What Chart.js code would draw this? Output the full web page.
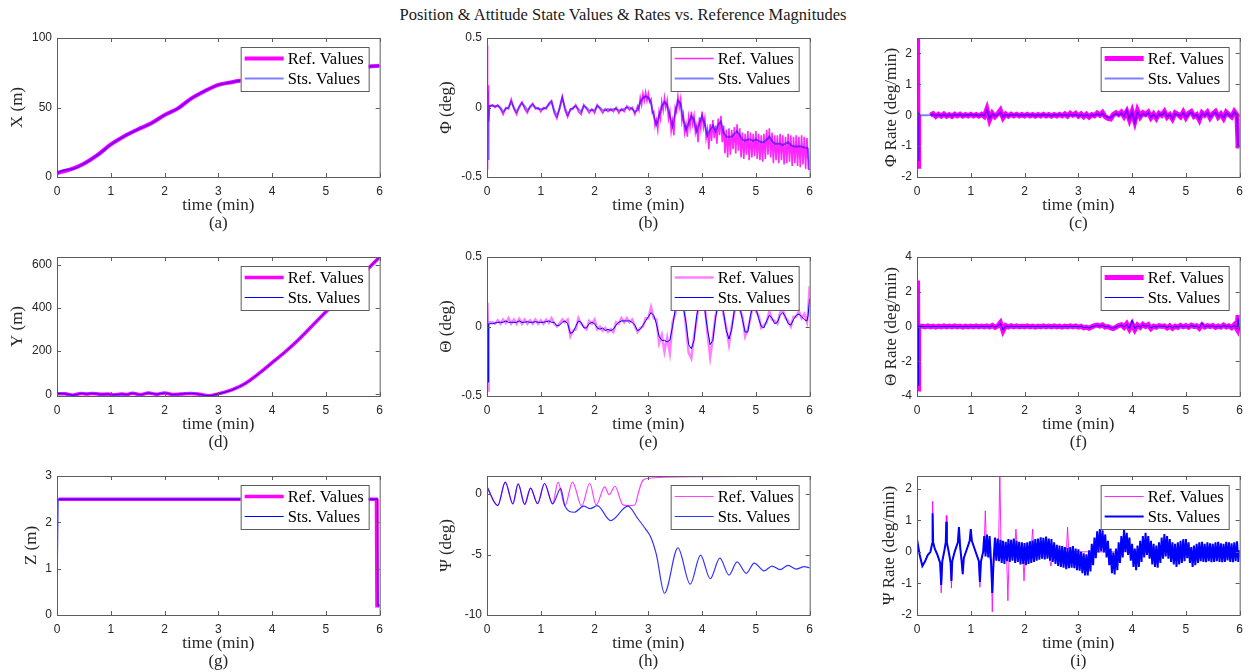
<!DOCTYPE html>
<html>
<head>
<meta charset="utf-8">
<title>Position &amp; Attitude State Values &amp; Rates vs. Reference Magnitudes</title>
<script src="https://cdn.jsdelivr.net/npm/chart.js@4.4.1/dist/chart.umd.min.js"></script>
<style>
  html, body { margin: 0; padding: 0; background: #fff; }
  #page { position: relative; width: 1250px; height: 672px; overflow: hidden; }
  #page canvas { position: absolute; }
  #title { position: absolute; left: 0; top: 5px; width: 1246px; line-height: 18px; text-align: center;
           font: 16.5px "Liberation Serif", "Times New Roman", serif; color: #1a1a1a; }
</style>
</head>
<body>
<div id="page">
  <div id="title">Position &amp; Attitude State Values &amp; Rates vs. Reference Magnitudes</div>
</div>
<script>
// ---- time bases (min) ----
const xTicks = [0, 1, 2, 3, 4, 5, 6];

// logged sample times for the attitude channels
const tFine = [
  0, 0.01, 0.02, 0.03, 0.05, 0.1, 0.15, 0.2, 0.25, 0.3, 0.35, 0.4, 0.45, 0.5, 0.55, 0.6, 0.65, 0.7, 0.75, 0.8, 0.85, 0.9, 0.95,
  1, 1.05, 1.1, 1.15, 1.2, 1.25, 1.3, 1.35, 1.4, 1.45, 1.5, 1.55, 1.6, 1.65, 1.7, 1.75, 1.8, 1.85, 1.9, 1.95,
  2, 2.05, 2.1, 2.15, 2.2, 2.25, 2.3, 2.35, 2.4, 2.45, 2.5, 2.55, 2.6, 2.65, 2.7, 2.75, 2.8, 2.85, 2.9, 2.95,
  3, 3.05, 3.1, 3.15, 3.2, 3.25, 3.3, 3.35, 3.4, 3.45, 3.5, 3.55, 3.6, 3.65, 3.7, 3.75, 3.8, 3.85, 3.9, 3.95,
  4, 4.05, 4.1, 4.15, 4.2, 4.25, 4.3, 4.35, 4.4, 4.45, 4.5, 4.55, 4.6, 4.65, 4.7, 4.75, 4.8, 4.85, 4.9, 4.95,
  5, 5.05, 5.1, 5.15, 5.2, 5.25, 5.3, 5.35, 5.4, 5.45, 5.5, 5.55, 5.6, 5.65, 5.7, 5.75, 5.8, 5.85, 5.9, 5.95,
  5.97, 6
];

// high-rate sample times (1.25 min onward) for the noisiest channels
const tDense = [
  1.25, 1.275, 1.3, 1.325, 1.35, 1.375, 1.4, 1.425, 1.45, 1.475, 1.5, 1.525, 1.55, 1.575, 1.6, 1.625, 1.65, 1.675, 1.7, 1.725,
  1.75, 1.775, 1.8, 1.825, 1.85, 1.875, 1.9, 1.925, 1.95, 1.975,
  2, 2.025, 2.05, 2.075, 2.1, 2.125, 2.15, 2.175, 2.2, 2.225, 2.25, 2.275, 2.3, 2.325, 2.35, 2.375, 2.4, 2.425, 2.45, 2.475,
  2.5, 2.525, 2.55, 2.575, 2.6, 2.625, 2.65, 2.675, 2.7, 2.725, 2.75, 2.775, 2.8, 2.825, 2.85, 2.875, 2.9, 2.925, 2.95, 2.975,
  3, 3.025, 3.05, 3.075, 3.1, 3.125, 3.15, 3.175, 3.2, 3.225, 3.25, 3.275, 3.3, 3.325, 3.35, 3.375, 3.4, 3.425, 3.45, 3.475,
  3.5, 3.525, 3.55, 3.575, 3.6, 3.625, 3.65, 3.675, 3.7, 3.725, 3.75, 3.775, 3.8, 3.825, 3.85, 3.875, 3.9, 3.925, 3.95, 3.975,
  4, 4.025, 4.05, 4.075, 4.1, 4.125, 4.15, 4.175, 4.2, 4.225, 4.25, 4.275, 4.3, 4.325, 4.35, 4.375, 4.4, 4.425, 4.45, 4.475,
  4.5, 4.525, 4.55, 4.575, 4.6, 4.625, 4.65, 4.675, 4.7, 4.725, 4.75, 4.775, 4.8, 4.825, 4.85, 4.875, 4.9, 4.925, 4.95, 4.975,
  5, 5.025, 5.05, 5.075, 5.1, 5.125, 5.15, 5.175, 5.2, 5.225, 5.25, 5.275, 5.3, 5.325, 5.35, 5.375, 5.4, 5.425, 5.45, 5.475,
  5.5, 5.525, 5.55, 5.575, 5.6, 5.625, 5.65, 5.675, 5.7, 5.725, 5.75, 5.775, 5.8, 5.825, 5.85, 5.875, 5.9, 5.925, 5.95, 5.975,
  6
];

// ---- (a) X position ----
const posXRefT = [0, 0.25, 0.5, 0.75, 1, 1.25, 1.5, 1.75, 2, 2.25, 2.5, 2.75, 3, 3.25, 3.5, 4, 4.5, 5, 5.5, 5.8, 6];
const posXRef  = [2.9, 5.5, 9.6, 15.7, 23.4, 29.4, 34.2, 38.6, 44.6, 49.4, 56.6, 61.9, 66.3, 68.2, 69.9, 72.5, 74.5, 76.5, 78.5, 79.5, 80];
const posXStsT = [0, 0.01, 0.25, 0.5, 0.75, 1, 1.25, 1.5, 1.75, 2, 2.25, 2.5, 2.75, 3, 3.25, 3.5, 4, 4.5, 5, 5.5, 5.8, 6];
const posXSts  = [0, 2.9, 5.5, 9.6, 15.7, 23.4, 29.4, 34.2, 38.6, 44.6, 49.4, 56.6, 61.9, 66.3, 68.2, 69.9, 72.5, 74.5, 76.5, 78.5, 79.5, 80];

// ---- (d) Y position ----
const posYT   = [0, 0.15, 0.3, 0.45, 0.55, 0.65, 0.8, 0.95, 1.05, 1.2, 1.3, 1.4, 1.55, 1.7, 1.85, 2, 2.15, 2.3, 2.5, 2.65, 2.82,
                 3, 3.25, 3.5, 3.75, 4, 4.25, 4.5, 4.75, 5, 5.25, 5.5, 5.75, 6];
const posYRef = [3, 2, -4, 4, 1, 4, 0, 1, -3, 1, -1, 5, -2, 6, 0, 6, -1, 1, 4, 0, -7,
                 2, 20, 50, 95, 146, 198, 255, 318, 382, 445, 510, 572, 635];
const posYSts = [3, 2, -4, 4, 1, 4, 0, 1, -3, 1, -1, 5, -2, 6, 0, 6, -1, 1, 4, 0, -7,
                 2, 20, 50, 95, 146, 198, 255, 318, 382, 445, 510, 572, 635];

// ---- (g) Z position ----
const posZRefT = [0.03, 5.94, 5.95, 6];
const posZRef  = [2.5, 2.5, 0.2, 0.2];
const posZStsT = [0, 0.02, 5.96, 5.97, 6];
const posZSts  = [0, 2.5, 2.5, 0.2, 0.2];

// ---- (b) roll angle ----
// reference up to 2.75 min on tFine, then on tDense
const phiRefEarly = [
  0.45, -0.45, 0.16, -0.1, 0.01, 0.02, 0, 0.02, -0.01, -0.05, 0, -0.01, 0.06, -0.01, -0.05, 0.01, 0.04, -0.01, -0.04, 0.01, 0.03, -0.01, 0,
  -0.03, 0, -0.01, 0.03, 0.05, -0.04, -0.08, 0, 0.08, -0.02, -0.07, -0.01, -0.01, 0.02, -0.03, -0.05, 0.02, -0.01, -0.04, -0.01,
  -0.04, 0.02, -0.01, -0.04, -0.01, -0.03, -0.01, -0.03, 0, -0.04, -0.01, -0.03, 0.01, -0.02, 0, -0.05
];
const phiRefLate = [
  0.01, -0.02, 0.07, 0.02, 0.1, 0.05, 0.11, 0.05,
  0.1, 0.04, 0.06, -0.04, -0.03, -0.13, -0.09, -0.16, -0.03, -0.08, 0.04, -0.02, 0.07, 0, 0.05, -0.08, -0.03, -0.17, -0.1, -0.2,
  0, -0.03, 0.08, 0, 0.06, -0.1, -0.05, -0.18, -0.12, -0.21, -0.07, -0.14, -0.03, -0.12, -0.06, -0.18, -0.13, -0.25, -0.07, -0.15,
  -0.03, -0.14, -0.08, -0.22, -0.16, -0.3, -0.12, -0.24, -0.09, -0.22, -0.13, -0.26, -0.08, -0.2, -0.06, -0.25, -0.13, -0.33, -0.16, -0.36,
  -0.15, -0.34, -0.16, -0.3, -0.14, -0.33, -0.12, -0.31, -0.15, -0.36, -0.18, -0.37, -0.19, -0.34, -0.17, -0.38, -0.18, -0.36, -0.19, -0.35,
  -0.17, -0.37, -0.19, -0.38, -0.2, -0.39, -0.19, -0.37, -0.16, -0.34, -0.15, -0.36, -0.18, -0.4, -0.2, -0.38, -0.2, -0.4, -0.19, -0.38,
  -0.2, -0.41, -0.21, -0.4, -0.19, -0.39, -0.2, -0.42, -0.21, -0.4, -0.2, -0.42, -0.21, -0.43, -0.2, -0.41, -0.21, -0.44, -0.22, -0.44,
  -0.45
];
const phiSts = [
  0, 0.12, -0.37, 0.01, 0.01, 0.01, 0.01, 0.01, 0, -0.03, -0.01, 0, 0.04, 0, -0.03, 0, 0.03, 0.01, -0.02, 0, 0.02, 0, -0.01,
  -0.01, -0.01, 0, 0.02, 0.04, -0.02, -0.06, -0.01, 0.07, 0, -0.05, -0.02, 0, 0.01, -0.01, -0.03, 0.01, 0, -0.02, -0.02,
  -0.02, 0.01, 0, -0.02, -0.02, -0.01, -0.02, -0.01, -0.01, -0.02, -0.02, -0.01, 0, 0, -0.01, -0.03, -0.02, 0.04, 0.07, 0.08,
  0.07, 0.03, -0.06, -0.12, -0.06, 0.01, 0.04, 0.02, -0.06, -0.13, -0.04, 0.05, 0.03, -0.08, -0.16, -0.11, -0.06, -0.09, -0.17, -0.11,
  -0.06, -0.12, -0.2, -0.16, -0.13, -0.17, -0.12, -0.1, -0.18, -0.21, -0.21, -0.21, -0.19, -0.17, -0.2, -0.23, -0.24, -0.23, -0.23, -0.24,
  -0.23, -0.24, -0.25, -0.25, -0.23, -0.21, -0.24, -0.26, -0.26, -0.26, -0.27, -0.26, -0.25, -0.27, -0.28, -0.28, -0.28, -0.28, -0.29, -0.29,
  -0.3, -0.45
];

// ---- (c) roll rate, on tFine (null = not logged) ----
const phiRateRef = [
  0, 2.7, -1.65, 0, null, null, null, null, 0, 0.05, -0.04, 0.03, -0.03, 0.04, -0.03, 0.02, -0.04, 0.03, -0.02, 0.03, -0.03, 0.02, -0.02,
  0.03, -0.02, 0.02, -0.03, 0.03, -0.04, 0.2, -0.15, 0.06, -0.05, 0.04, 0.16, -0.08, 0.04, -0.03, 0.03, -0.02, 0.03, -0.02, 0.02,
  -0.02, 0.03, -0.02, 0.02, -0.03, 0.02, -0.02, 0.03, -0.02, 0.02, -0.03, 0.02, -0.02, 0.03, -0.02, 0.04, -0.03, 0.06, 0, 0.06,
  -0.03, 0.04, -0.05, 0.03, -0.06, 0.02, -0.02, 0.07, 0, 0.09, -0.05, -0.1, -0.12, 0.02, 0.08, 0.02, 0.1, -0.04, 0.12, -0.14,
  0.12, -0.2, 0.15, -0.05, 0.08, 0.02, 0.1, -0.08, 0.04, -0.1, 0.06, 0, 0.12, -0.06, 0.02, -0.12, 0.08, 0.03, -0.05, 0.1,
  -0.08, 0.06, 0.12, -0.04, 0.02, -0.15, 0.08, 0, 0.1, -0.08, 0.05, 0.12, -0.06, 0.04, -0.1, 0.1, 0.02, -0.05, 0.12, 0,
  -1, -1
];
const phiRateSts = [
  0, 0.02, -1.45, 0.05, 0, 0, 0, 0, 0.01, 0.03, -0.02, 0.02, -0.02, 0.02, -0.02, 0.01, -0.02, 0.02, -0.01, 0.02, -0.02, 0.01, -0.01,
  0.02, -0.01, 0.01, -0.02, 0.02, -0.02, 0.16, -0.1, 0.04, -0.03, 0.02, 0.08, -0.05, 0.02, -0.02, 0.02, -0.01, 0.02, -0.01, 0.01,
  -0.01, 0.02, -0.01, 0.01, -0.02, 0.01, -0.01, 0.02, -0.01, 0.01, -0.02, 0.01, -0.01, 0.02, -0.01, 0.02, -0.02, 0.03, 0, 0.03,
  -0.02, 0.02, -0.03, 0.01, -0.04, 0.01, -0.01, 0.04, 0, 0.05, -0.03, -0.07, -0.08, 0, 0.05, 0.01, 0.06, -0.03, 0.14, -0.12,
  0.1, -0.22, 0.1, -0.04, 0.05, 0, 0.07, -0.06, 0.02, -0.07, 0.04, 0, 0.09, -0.04, 0.01, -0.1, 0.05, 0.02, -0.03, 0.07,
  -0.06, 0.04, 0.09, -0.03, 0.01, -0.12, 0.06, 0, 0.07, -0.06, 0.03, 0.09, -0.04, 0.02, -0.08, 0.07, 0.01, -0.04, 0.09, 0,
  -1, -1
];

// ---- (e) pitch angle, on tFine ----
const thetaRef = [
  0, 0.17, -0.46, 0.03, 0.03, 0.03, 0.02, 0.045, 0.02, 0.05, 0.025, 0.06, 0.02, 0.05, 0.02, 0.055, 0.02, 0.05, 0.02, 0.045, 0.02, 0.05, 0.02,
  0.045, 0.02, 0.05, 0.025, 0.06, 0.02, 0, 0.02, 0.05, 0.03, 0.05, -0.07, -0.03, -0.02, 0.06, 0.02, 0, -0.02, 0.04, 0.02,
  0.05, -0.02, 0, -0.03, -0.01, -0.04, -0.02, -0.04, 0.03, 0.02, 0.06, 0.03, 0.06, 0.03, 0.05, 0, -0.04, -0.01, 0, 0.06,
  0.06, 0.14, 0.06, 0.05, -0.12, -0.06, -0.18, -0.08, -0.19, 0.03, 0.09, 0.2, 0.15, 0.18, 0, -0.19, -0.23, -0.07, 0.05, 0.2,
  0.15, 0.15, -0.05, -0.22, -0.08, 0.08, 0.15, 0.19, 0.08, -0.01, -0.13, 0, 0.1, 0.2, 0.12, 0.07, -0.07, -0.02, 0.06, 0.18,
  0.11, 0.08, -0.01, 0.01, 0.03, 0.11, 0.05, 0.04, 0.02, 0.1, 0.12, 0.06, 0.04, 0, 0.07, 0.07, 0.11, 0.06, 0.09, 0.03,
  0.1, 0.29
];
const thetaSts = [
  0, 0.12, -0.4, 0.02, 0.02, 0.02, 0.025, 0.03, 0.03, 0.03, 0.04, 0.03, 0.03, 0.03, 0.03, 0.04, 0.03, 0.03, 0.035, 0.03, 0.03, 0.035, 0.03,
  0.03, 0.03, 0.035, 0.04, 0.03, 0.03, 0.005, 0.01, 0.03, 0.04, 0.02, -0.05, -0.04, 0, 0.04, 0.03, -0.01, -0.01, 0.02, 0.03,
  0.02, -0.01, -0.02, -0.01, -0.03, -0.02, -0.03, -0.02, 0.01, 0.03, 0.04, 0.04, 0.04, 0.04, 0.03, 0.01, -0.03, -0.02, 0.01, 0.04,
  0.07, 0.1, 0.08, 0.02, -0.07, -0.1, -0.1, -0.11, -0.1, 0, 0.12, 0.17, 0.17, 0.14, 0.03, -0.13, -0.16, -0.1, 0.08, 0.17,
  0.17, 0.12, -0.02, -0.13, -0.1, 0.06, 0.17, 0.16, 0.1, -0.03, -0.09, -0.02, 0.12, 0.17, 0.14, 0.05, -0.04, -0.04, 0.08, 0.16,
  0.13, 0.06, 0, -0.01, 0.04, 0.08, 0.06, 0.02, 0.03, 0.08, 0.1, 0.07, 0.02, 0.01, 0.05, 0.08, 0.09, 0.07, 0.05, 0.04,
  0.08, 0.2
];

// ---- (f) pitch rate, on tFine ----
const thetaRateRef = [
  0, 2.65, -3.6, 0, 0.02, 0.02, -0.02, 0.03, -0.02, 0.02, -0.03, 0.02, -0.02, 0.03, -0.02, 0.02, -0.02, 0.03, -0.02, 0.02, -0.03, 0.02, -0.02,
  0.02, -0.02, 0.03, -0.02, 0.02, -0.02, 0.03, -0.03, 0.06, -0.05, 0.03, 0.22, -0.25, 0.05, -0.03, 0.04, -0.02, 0.03, -0.02, 0.02,
  -0.02, 0.03, -0.02, 0.02, -0.03, 0.02, -0.02, 0.03, -0.02, 0.02, -0.02, 0.03, -0.02, 0.02, -0.03, 0.02, -0.02, 0.03, -0.02, 0.03,
  -0.03, 0.02, -0.08, -0.04, -0.1, -0.02, 0.05, 0.08, 0.02, 0.09, -0.03, 0, -0.08, -0.12, -0.04, 0.06, 0.1, -0.05, 0.15, -0.15,
  0.15, -0.18, 0.08, -0.05, 0.12, 0, 0.1, -0.12, 0.02, -0.04, 0.05, 0, 0.03, -0.08, 0.04, -0.1, 0.02, -0.05, 0.06, -0.02,
  0.05, -0.04, 0.08, 0, 0.04, -0.1, 0.1, -0.03, 0.05, 0, 0.06, -0.05, 0.03, -0.04, 0.08, -0.02, 0.04, -0.07, 0.1, -0.15,
  0.65, -0.4
];
const thetaRateSts = [
  0, 2.2, -3.4, 0.05, 0, 0.01, -0.01, 0.01, -0.01, 0.01, -0.01, 0.01, -0.01, 0.01, -0.01, 0.01, -0.01, 0.01, -0.01, 0.01, -0.01, 0.01, -0.01,
  0.01, -0.01, 0.01, -0.01, 0.01, -0.01, 0.01, -0.02, 0.05, -0.04, 0.02, 0.18, -0.2, 0.03, -0.02, 0.02, -0.01, 0.01, -0.01, 0.01,
  -0.01, 0.01, -0.01, 0.01, -0.01, 0.01, -0.01, 0.01, -0.01, 0.01, -0.01, 0.01, -0.01, 0.01, -0.01, 0.01, -0.01, 0.01, -0.01, 0.01,
  -0.02, 0.01, -0.07, -0.04, -0.08, -0.02, 0.03, 0.06, 0.02, 0.07, -0.02, 0, -0.07, -0.1, -0.03, 0.05, 0.08, -0.04, 0.12, -0.12,
  0.35, -0.12, 0.05, -0.04, 0.09, 0, 0.07, -0.09, 0.01, -0.03, 0.03, 0, 0.02, -0.06, 0.03, -0.08, 0.01, -0.04, 0.04, -0.01,
  0.04, -0.03, 0.06, 0, 0.03, -0.08, 0.2, -0.02, 0.04, 0, 0.05, -0.04, 0.02, -0.03, 0.06, -0.01, 0.03, -0.05, 0.08, -0.12,
  0.45, -0.25
];

// ---- (h) yaw angle ----
const psiRefT = [0, 0.2, 0.34, 0.48, 0.58, 0.7, 0.81, 0.94, 1.07, 1.22, 1.32, 1.45, 1.59, 1.76, 1.91, 2.03, 2.19, 2.27, 2.38, 2.52,
                 2.62, 2.75, 2.82, 2.9, 3, 3.3, 4, 6];
const psiRef  = [0.6, -0.95, 1, -0.8, 0.85, -0.85, 0.5, -0.78, 0.88, -0.8, 1, -0.95, 1, -1, 0.9, -0.9, 0.6, -0.05, 0.65, -0.85,
                 -0.95, -0.9, 0.2, 1.15, 1.3, 1.4, 1.45, 1.5];
const psiStsT = [0, 0.2, 0.34, 0.48, 0.58, 0.7, 0.81, 0.94, 1.07, 1.22, 1.37, 1.45, 1.62, 1.8, 1.92, 2.05, 2.3, 2.62, 2.8, 2.95,
                 3.05, 3.15, 3.3, 3.55, 3.78, 3.97, 4.15, 4.33, 4.5, 4.65, 4.82, 4.97, 5.15, 5.3, 5.45, 5.6, 5.75, 5.9, 6];
const psiSts  = [0.6, -0.95, 1, -0.8, 0.85, -0.85, 0.5, -0.78, 0.88, -0.8, 0.45, -1, -1.5, -1, -1.2, -0.95, -2.2, -1, -2, -2.9,
                 -3.6, -5, -8.2, -4.45, -7.45, -5.05, -7, -5.3, -6.7, -5.6, -6.55, -5.7, -6.35, -5.95, -6.25, -5.9, -6.2, -6, -6.1];

// ---- (i) yaw rate ----
const psiRateEarlyT = [0, 0.02, 0.05, 0.1, 0.15, 0.2, 0.25, 0.28, 0.29, 0.3, 0.33, 0.38, 0.43, 0.45, 0.47, 0.51, 0.535, 0.545, 0.555, 0.59,
                       0.625, 0.64, 0.655, 0.7, 0.76, 0.78, 0.8, 0.83, 0.85, 0.87, 0.92, 0.98, 1, 1.02, 1.08, 1.15, 1.17, 1.19, 1.23];
const psiRateRefEarly = [0, 0.2, -0.1, -0.45, -0.3, -0.1, 0, 0.25, 1.6, 0.3, 0.1, -0.1, -0.35, -1.3, -0.3, 0.05, 0.3, 1.15, 0.3, 0,
                         -0.35, -1.15, -0.3, 0, 0.3, 0.78, 0.2, -0.3, -0.72, -0.2, 0.05, 0.35, 0.72, 0.35, 0.05, -0.3, -1.12, -0.3, 0];
const psiRateStsEarly = [0, 0.2, -0.1, -0.45, -0.3, -0.1, 0, 0.25, 1.22, 0.3, 0.1, -0.1, -0.35, -1.05, -0.3, 0.05, 0.3, 0.95, 0.3, 0,
                         -0.35, -0.92, -0.3, 0, 0.3, 0.78, 0.2, -0.3, -0.7, -0.2, 0.05, 0.35, 0.72, 0.35, 0.05, -0.3, -0.95, -0.3, 0];
const psiRateRefLateT = [1.25, 1.27, 1.29, 1.33, 1.38, 1.4, 1.42, 1.48, 1.52, 1.54, 1.56, 1.62, 1.67, 1.69, 1.71, 1.78, 1.82, 1.84, 1.86,
                         1.93, 1.97, 1.99, 2.01, 2.08, 2.13, 2.15, 2.17, 2.3, 2.45, 2.49, 2.53, 2.65, 2.78, 2.8, 2.82, 2.9, 6];
const psiRateRefLate  = [0.2, 1.3, 0.2, 0, -0.4, -1.9, -0.4, 0.1, 0.4, 2.6, 0.4, 0, -0.3, -1.55, -0.3, 0.05, 0.2, 0.72, 0.2,
                         0, -0.2, -0.92, -0.2, 0.05, 0.2, 0.72, 0.2, 0, -0.1, -0.45, -0.1, 0, 0.1, 0.78, 0.1, 0, 0];
// measured yaw rate from 1.25 min onward, on tDense
const psiRateStsLate = [
  0.5, -0.15, 0.55, -0.18, 0.5, -0.25, -1.3, -0.25, 0.45, -0.28, 0.42, -0.3, 0.38, -0.35, 0.35, -0.38, 0.32, -0.3, 0.4, -0.32,
  0.38, -0.28, 0.42, -0.35, 0.35, -0.32, 0.32, -0.4, 0.3, -0.38,
  0.28, -0.42, 0.3, -0.38, 0.33, -0.35, 0.36, -0.32, 0.4, -0.28, 0.42, -0.25, 0.46, -0.22, 0.44, -0.24, 0.48, -0.22, 0.42, -0.28,
  0.4, -0.32, 0.3, -0.38, 0.22, -0.45, 0.2, -0.48, 0.18, -0.5, 0.15, -0.55, 0.12, -0.52, 0.15, -0.5, 0.18, -0.52, 0.1, -0.58,
  0.08, -0.6, 0, -0.68, -0.05, -0.75, -0.08, -0.75, 0.05, -0.62, 0.25, -0.42, 0.45, -0.2, 0.65, -0.02, 0.72, 0.02, 0.68, -0.02,
  0.55, -0.18, 0.35, -0.42, 0.1, -0.68, -0.02, -0.72, 0.1, -0.58, 0.3, -0.35, 0.5, -0.18, 0.7, 0, 0.6, -0.1, 0.45, -0.28,
  0.25, -0.48, 0.1, -0.58, 0.2, -0.48, 0.35, -0.32, 0.5, -0.18, 0.6, -0.1, 0.5, -0.22, 0.35, -0.4, 0.25, -0.48, 0.2, -0.5,
  0.3, -0.35, 0.45, -0.22, 0.56, -0.15, 0.5, -0.22, 0.4, -0.32, 0.3, -0.4, 0.25, -0.48, 0.3, -0.4, 0.35, -0.35, 0.4, -0.3,
  0.4, -0.2, 0.3, -0.35, 0.15, -0.48, 0.2, -0.42, 0.25, -0.35, 0.3, -0.3, 0.32, -0.32, 0.25, -0.33, 0.3, -0.3, 0.27, -0.33,
  0.25, -0.32, 0.3, -0.3, 0.32, -0.32, 0.27, -0.33, 0.25, -0.32, 0.32, -0.27, 0.3, -0.32, 0.27, -0.33, 0.3, -0.3, 0.33, -0.32,
  0.05
];

// ---- y ticks ----
const ticksX100   = [0, 50, 100];
const ticksAngle  = [-0.5, 0, 0.5];
const ticksRate2  = [-2, -1, 0, 1, 2];
const ticksY      = [0, 200, 400, 600];
const ticksRate4  = [-4, -2, 0, 2, 4];
const ticksZ      = [0, 1, 2, 3];
const ticksPsi    = [-10, -5, 0];

// ---- drawing ----
const SERIF = '"Liberation Serif", "Times New Roman", serif';
const SANS = '"Liberation Sans", Arial, sans-serif';
const INK = '#262626';
const EDGE = '#5c5c5c';

function pts(t, v) { return t.map((x, i) => ({ x: x, y: v[i] })); }

// axes box with inward ticks, boxed legend, axis labels and panel caption
const frame = {
  id: 'frame',
  afterDatasetsDraw(chart, args, o) {
    const ctx = chart.ctx, a = chart.chartArea, xs = chart.scales.x, ys = chart.scales.y;
    ctx.save();
    ctx.strokeStyle = EDGE;
    ctx.lineWidth = 1;
    ctx.strokeRect(a.left + 0.5, a.top + 0.5, a.right - a.left, a.bottom - a.top);
    ctx.beginPath();
    xs.ticks.forEach(t => {
      const px = Math.round(xs.getPixelForValue(t.value)) + 0.5;
      ctx.moveTo(px, a.bottom); ctx.lineTo(px, a.bottom - 4);
      ctx.moveTo(px, a.top); ctx.lineTo(px, a.top + 4);
    });
    ys.ticks.forEach(t => {
      const py = Math.round(ys.getPixelForValue(t.value)) + 0.5;
      ctx.moveTo(a.left, py); ctx.lineTo(a.left + 4, py);
      ctx.moveTo(a.right, py); ctx.lineTo(a.right - 4, py);
    });
    ctx.stroke();

    const bw = 128, bh = 44, bx = a.right - 11 - bw, by = a.top + 9;
    ctx.fillStyle = '#fff';
    ctx.fillRect(bx, by, bw, bh);
    ctx.strokeStyle = EDGE;
    ctx.strokeRect(bx + 0.5, by + 0.5, bw, bh);
    ctx.font = '16.5px ' + SERIF;
    ctx.textAlign = 'left';
    ctx.textBaseline = 'middle';
    chart.data.datasets.forEach((ds, i) => {
      const ly = by + 11.5 + i * 20;
      ctx.strokeStyle = ds.borderColor;
      ctx.lineWidth = ds.borderWidth;
      ctx.beginPath(); ctx.moveTo(bx + 4, ly); ctx.lineTo(bx + 43, ly); ctx.stroke();
      ctx.fillStyle = '#000';
      ctx.fillText(ds.label, bx + 47, ly + 1);
    });
    ctx.restore();
  },
  afterDraw(chart, args, o) {
    const ctx = chart.ctx, a = chart.chartArea;
    const cx = (a.left + a.right) / 2;
    ctx.save();
    ctx.fillStyle = INK;
    ctx.font = '17px ' + SERIF;
    ctx.textAlign = 'center';
    ctx.textBaseline = 'middle';
    ctx.fillText('time (min)', cx, a.bottom + 29);
    ctx.fillText(o.caption, cx, a.bottom + 47);
    ctx.translate(a.left - o.yGap, (a.top + a.bottom) / 2);
    ctx.rotate(-Math.PI / 2);
    ctx.fillText(o.yTitle, 0, 0);
    ctx.restore();
  }
};

const page = document.getElementById('page');

function panel(col, row, p) {
  const cv = document.createElement('canvas');
  cv.width = 390;
  cv.height = 234;
  cv.style.left = (col * 430) + 'px';
  cv.style.top = (row * 219) + 'px';
  page.appendChild(cv);

  const tickFont = { family: SANS, size: 12 };
  new Chart(cv, {
    type: 'line',
    data: { datasets: p.datasets },
    options: {
      responsive: false,
      animation: false,
      events: [],
      layout: { padding: { top: 38, right: 6, left: 0, bottom: 0 } },
      elements: { point: { radius: 0 }, line: { tension: 0 } },
      datasets: { line: { clip: 0 } },
      plugins: {
        legend: { display: false },
        tooltip: { enabled: false },
        frame: { caption: p.caption, yTitle: p.yTitle, yGap: p.yGap }
      },
      scales: {
        x: {
          type: 'linear', min: 0, max: 6,
          afterBuildTicks: s => { s.ticks = xTicks.map(v => ({ value: v })); },
          afterFit: s => { s.height = 57; },
          grid: { display: false, drawTicks: false },
          border: { display: false },
          ticks: { padding: 7, color: INK, font: tickFont, maxRotation: 0, autoSkip: false, callback: v => String(v) }
        },
        y: {
          type: 'linear', min: p.min, max: p.max,
          afterBuildTicks: s => { s.ticks = p.ticks.map(v => ({ value: v })); },
          afterFit: s => { s.width = 57; },
          grid: { display: false, drawTicks: false },
          border: { display: false },
          ticks: { padding: 5, color: INK, font: tickFont, autoSkip: false, callback: v => String(v) }
        }
      }
    },
    plugins: [frame]
  });
}

function line(label, data, color, width, extra) {
  return Object.assign({ label: label, data: data, borderColor: color, borderWidth: width, fill: false }, extra || {});
}

const REF = 'Ref. Values', STS = 'Sts. Values';
const MAG = '#ff00ff', BLU = '#0000ff';
const MAG_SOFT = 'rgba(255,0,255,0.5)', BLU_SOFT = 'rgba(0,0,255,0.5)';
const smooth = { cubicInterpolationMode: 'monotone' };

// row 1
panel(0, 0, {
  caption: '(a)', yTitle: 'X (m)', yGap: 39, min: 0, max: 100, ticks: ticksX100,
  datasets: [
    line(REF, pts(posXRefT, posXRef), MAG, 4, Object.assign({ order: 1 }, smooth)),
    line(STS, pts(posXStsT, posXSts), BLU_SOFT, 2, Object.assign({ order: 0 }, smooth))
  ]
});
const phiRefData = pts(tFine.filter(t => t <= 2.75), phiRefEarly).concat(pts(tDense.filter(t => t >= 2.8), phiRefLate));
panel(1, 0, {
  caption: '(b)', yTitle: 'Φ (deg)', yGap: 40, min: -0.5, max: 0.5, ticks: ticksAngle,
  datasets: [
    line(REF, phiRefData, 'rgba(255,0,255,0.85)', 1.6, { order: 1 }),
    line(STS, pts(tFine, phiSts), BLU_SOFT, 2, { order: 0 })
  ]
});
panel(2, 0, {
  caption: '(c)', yTitle: 'Φ Rate (deg/min)', yGap: 25.5, min: -2, max: 2.5, ticks: ticksRate2,
  datasets: [
    line(REF, pts(tFine, phiRateRef), MAG, 5, { order: 1 }),
    line(STS, pts(tFine, phiRateSts), BLU_SOFT, 2, { order: 0 })
  ]
});

// row 2
panel(0, 1, {
  caption: '(d)', yTitle: 'Y (m)', yGap: 39, min: -8, max: 635, ticks: ticksY,
  datasets: [
    line(REF, pts(posYT, posYRef), MAG, 3.5, Object.assign({ order: 1 }, smooth)),
    line(STS, pts(posYT, posYSts), BLU, 1, Object.assign({ order: 0 }, smooth))
  ]
});
panel(1, 1, {
  caption: '(e)', yTitle: 'Θ (deg)', yGap: 40, min: -0.5, max: 0.5, ticks: ticksAngle,
  datasets: [
    line(REF, pts(tFine, thetaRef), MAG_SOFT, 2.5, { order: 1 }),
    line(STS, pts(tFine, thetaSts), BLU, 1, { order: 0 })
  ]
});
panel(2, 1, {
  caption: '(f)', yTitle: 'Θ Rate (deg/min)', yGap: 25.5, min: -4, max: 4, ticks: ticksRate4,
  datasets: [
    line(REF, pts(tFine, thetaRateRef), MAG, 5, { order: 1 }),
    line(STS, pts(tFine, thetaRateSts), BLU, 1, { order: 0 })
  ]
});

// row 3
panel(0, 2, {
  caption: '(g)', yTitle: 'Z (m)', yGap: 25, min: 0, max: 3, ticks: ticksZ,
  datasets: [
    line(REF, pts(posZRefT, posZRef), MAG, 3.5, { order: 1 }),
    line(STS, pts(posZStsT, posZSts), BLU, 1, { order: 0 })
  ]
});
panel(1, 2, {
  caption: '(h)', yTitle: 'Ψ (deg)', yGap: 40, min: -10, max: 1.5, ticks: ticksPsi,
  datasets: [
    line(REF, pts(psiRefT, psiRef), 'rgba(255,0,255,0.75)', 1.2, Object.assign({ order: 1 }, smooth)),
    line(STS, pts(psiStsT, psiSts), 'rgba(0,0,255,0.8)', 1.2, Object.assign({ order: 0 }, smooth))
  ]
});
panel(2, 2, {
  caption: '(i)', yTitle: 'Ψ Rate (deg/min)', yGap: 27, min: -2, max: 2.4, ticks: ticksRate2,
  datasets: [
    line(REF, pts(psiRateEarlyT, psiRateRefEarly).concat(pts(psiRateRefLateT, psiRateRefLate)), 'rgba(255,0,255,0.85)', 1, { order: 1 }),
    line(STS, pts(psiRateEarlyT, psiRateStsEarly).concat(pts(tDense, psiRateStsLate)), BLU, 2, { order: 0 })
  ]
});
</script>
</body>
</html>
